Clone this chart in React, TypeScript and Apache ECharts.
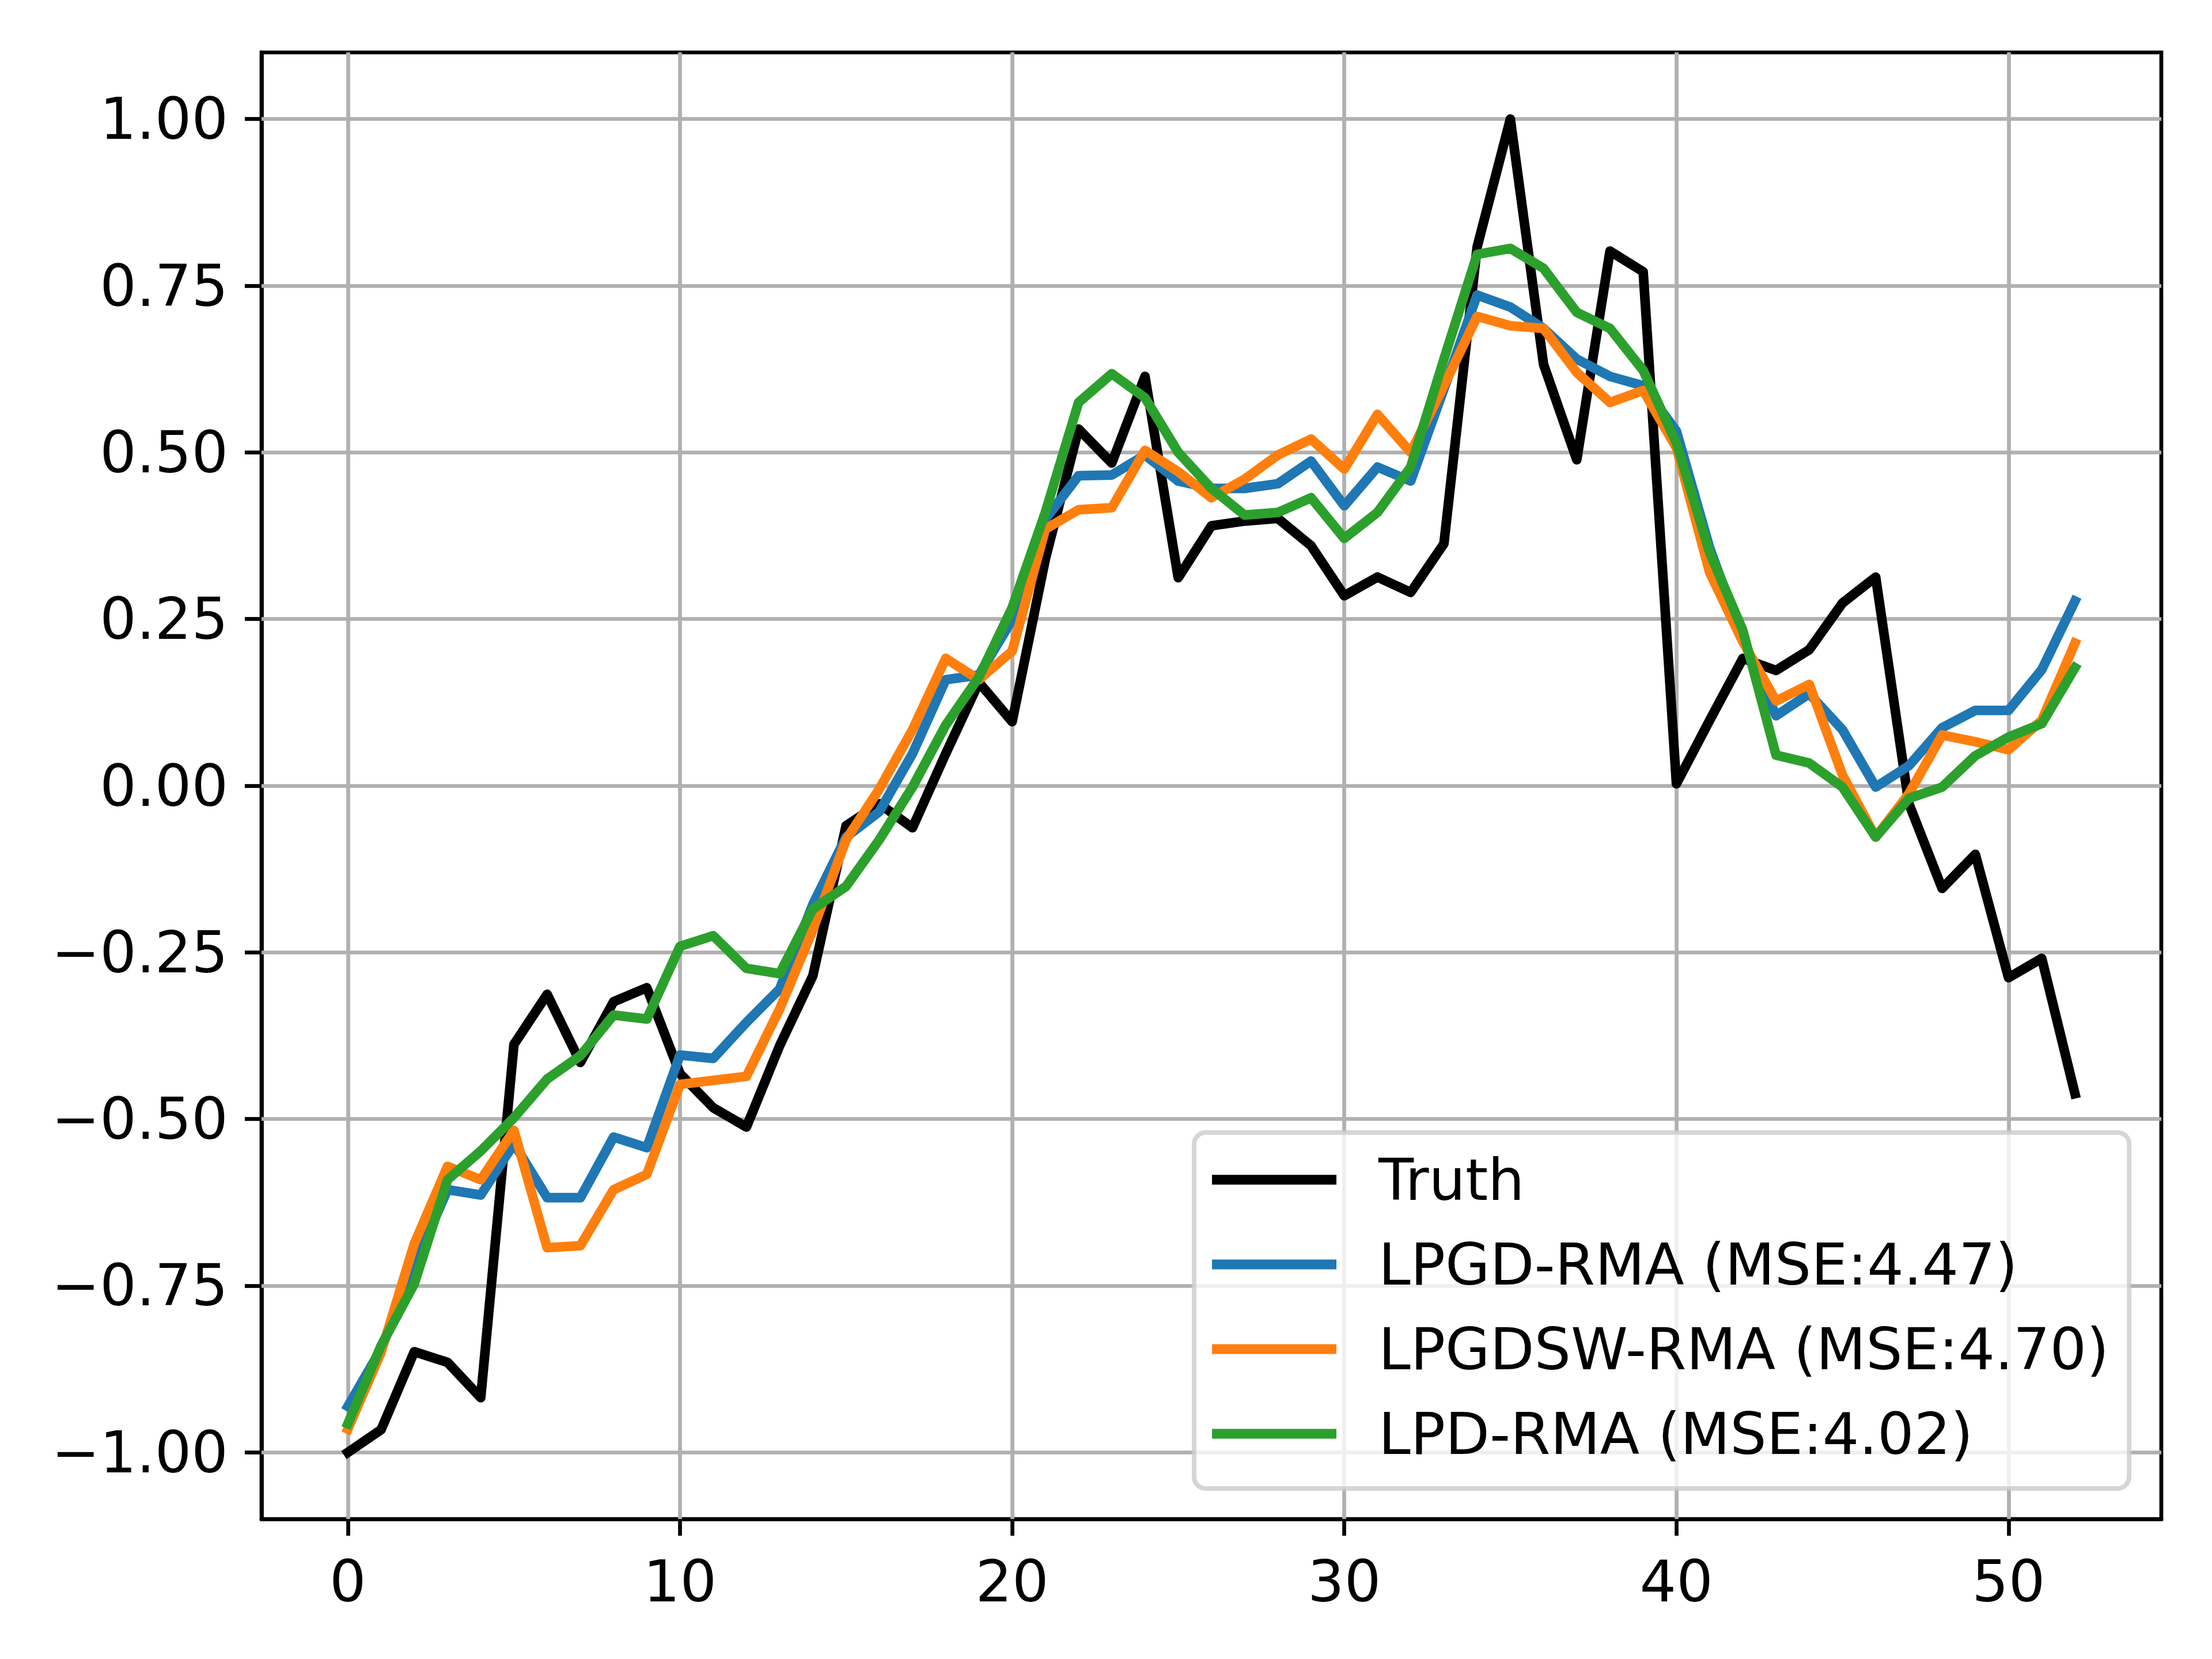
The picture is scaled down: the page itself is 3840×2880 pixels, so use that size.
import React, { useEffect, useRef } from "react";
import * as echarts from "echarts";

const truth = [-1.0, -0.966, -0.849, -0.865, -0.918, -0.388, -0.313, -0.415, -0.324, -0.303, -0.432, -0.483, -0.512, -0.39, -0.285, -0.06, -0.027, -0.063, 0.048, 0.155, 0.096, 0.34, 0.535, 0.484, 0.614, 0.312, 0.39, 0.397, 0.401, 0.36, 0.285, 0.313, 0.29, 0.363, 0.808, 1.0, 0.632, 0.489, 0.802, 0.771, 0.003, 0.098, 0.191, 0.173, 0.204, 0.274, 0.313, -0.027, -0.154, -0.103, -0.288, -0.259, -0.462];
const lpgd = [-0.931, -0.845, -0.72, -0.606, -0.614, -0.537, -0.618, -0.618, -0.527, -0.543, -0.404, -0.409, -0.355, -0.305, -0.178, -0.077, -0.039, 0.048, 0.159, 0.166, 0.249, 0.4, 0.465, 0.466, 0.496, 0.457, 0.446, 0.446, 0.453, 0.487, 0.42, 0.478, 0.457, 0.595, 0.736, 0.718, 0.686, 0.64, 0.614, 0.6, 0.532, 0.357, 0.22, 0.105, 0.138, 0.084, -0.002, 0.03, 0.087, 0.113, 0.113, 0.174, 0.277];
const lpgdsw = [-0.965, -0.85, -0.687, -0.571, -0.591, -0.517, -0.693, -0.69, -0.606, -0.583, -0.448, -0.442, -0.436, -0.335, -0.216, -0.081, -0.005, 0.084, 0.191, 0.159, 0.202, 0.385, 0.414, 0.417, 0.503, 0.471, 0.432, 0.46, 0.496, 0.52, 0.475, 0.557, 0.5, 0.6, 0.704, 0.69, 0.686, 0.62, 0.575, 0.593, 0.507, 0.32, 0.216, 0.127, 0.152, 0.016, -0.077, -0.012, 0.076, 0.066, 0.054, 0.098, 0.214];
const lpd = [-0.957, -0.84, -0.747, -0.591, -0.548, -0.498, -0.44, -0.405, -0.344, -0.35, -0.241, -0.225, -0.274, -0.282, -0.185, -0.151, -0.081, -0.002, 0.091, 0.163, 0.267, 0.41, 0.575, 0.618, 0.582, 0.5, 0.446, 0.406, 0.41, 0.432, 0.371, 0.41, 0.478, 0.64, 0.797, 0.806, 0.776, 0.71, 0.686, 0.623, 0.514, 0.35, 0.233, 0.046, 0.034, -0.002, -0.077, -0.019, -0.002, 0.045, 0.073, 0.093, 0.177];

const seriesNames = ["Truth", "LPGD-RMA (MSE:4.47)", "LPGDSW-RMA (MSE:4.70)", "LPD-RMA (MSE:4.02)"];
const seriesColors = ["#000000", "#1f77b4", "#ff7f0e", "#2ca02c"];
const xTicks = [0, 10, 20, 30, 40, 50];
const yTicks = [-1.0, -0.75, -0.5, -0.25, 0.0, 0.25, 0.5, 0.75, 1.0];

const FONT = "DejaVu Sans";
const LW = 16.7;
const THIN = 6.7;

export default function App() {
  const ref = useRef<HTMLDivElement>(null);
  useEffect(() => {
    document.body.style.margin = "0";
    const chart = echarts.init(ref.current!, null, { renderer: "svg" });
    const allSeries = [truth, lpgd, lpgdsw, lpd];
    const lineSeries = allSeries.map((arr, k) => ({
      name: seriesNames[k],
      type: "line",
      data: arr.map((v, i) => [i, v]),
      showSymbol: false,
      symbol: "none",
      z: 3 + k,
      color: seriesColors[k],
      lineStyle: { color: seriesColors[k], width: LW, cap: "square", join: "round" },
      emphasis: { disabled: true },
    }));
    const gridSeries = {
      name: "grid",
      type: "line",
      data: truth.map((v, i) => [i, v]),
      showSymbol: false,
      symbol: "none",
      lineStyle: { opacity: 0, width: 0 },
      z: 1,
      silent: true,
      markLine: {
        silent: true,
        z: 1,
        symbol: ["none", "none"],
        label: { show: false },
        lineStyle: { color: "#b0b0b0", width: THIN, type: "solid" },
        emphasis: { disabled: true },
        data: [
          ...xTicks.map((x) => ({ xAxis: x })),
          ...yTicks.map((y) => ({ yAxis: y })),
        ],
      },
    };
    chart.setOption({
      animation: false,
      grid: {
        left: 454,
        top: 91,
        width: 3298,
        height: 2546,
        show: true,
        borderColor: "#000",
        borderWidth: THIN,
        backgroundColor: "transparent",
        containLabel: false,
      },
      xAxis: {
        type: "value",
        min: -2.6,
        max: 54.6,
        splitLine: { show: false },
        axisLine: { show: true, onZero: false, lineStyle: { color: "#000", width: THIN } },
        axisTick: { show: true, length: 29, lineStyle: { color: "#000", width: THIN }, customValues: xTicks },
        axisLabel: {
          customValues: xTicks,
          margin: 58,
          fontSize: 100,
          fontFamily: FONT,
          color: "#000",
          formatter: (v: number) => String(v),
        },
      },
      yAxis: {
        type: "value",
        min: -1.1,
        max: 1.1,
        splitLine: { show: false },
        axisLine: { show: true, onZero: false, lineStyle: { color: "#000", width: THIN } },
        axisTick: { show: true, length: 29, lineStyle: { color: "#000", width: THIN }, customValues: yTicks },
        axisLabel: {
          customValues: yTicks,
          margin: 58,
          fontSize: 100,
          fontFamily: FONT,
          color: "#000",
          formatter: (v: number) => (v < -1e-9 ? "\u2212" : "") + Math.abs(v).toFixed(2),
        },
      },
      legend: {
        data: seriesNames,
        orient: "vertical",
        left: 2073,
        top: 1966,
        padding: [32, 35, 45, 31],
        itemGap: 47,
        itemWidth: 216,
        itemHeight: 17,
        icon: "rect",
        backgroundColor: "rgba(255,255,255,0.8)",
        borderColor: "rgba(204,204,204,0.8)",
        borderWidth: 8,
        borderRadius: 20,
        selectedMode: false,
        z: 10,
        textStyle: {
          fontSize: 100,
          fontFamily: FONT,
          color: "#000",
          lineHeight: 100,
          padding: [0, 0, 0, 68],
        },
      },
      series: [gridSeries, ...lineSeries],
    });
    return () => chart.dispose();
  }, []);
  return <div ref={ref} style={{ width: 3840, height: 2880 }} />;
}
